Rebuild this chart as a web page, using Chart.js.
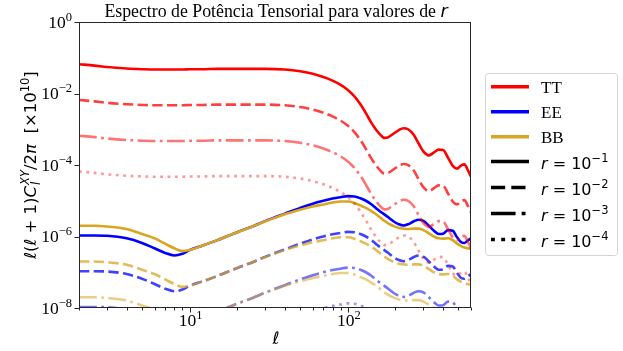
<!DOCTYPE html>
<html>
<head>
<meta charset="utf-8">
<script src="https://cdn.jsdelivr.net/npm/chart.js@4/dist/chart.umd.min.js"></script>
<style>
  html, body { margin: 0; padding: 0; background: #ffffff; }
  canvas { display: block; }
</style>
</head>
<body>
<canvas id="chart" width="623" height="351"></canvas>
<script>
// Multipoles ℓ at which the spectra are sampled
const ell = [2, 2.5, 3, 4, 5, 6, 7, 8, 9, 10, 12, 15, 20, 25, 30, 40, 50, 60, 70, 80, 90, 100,
  110, 120, 130, 140, 150, 160, 170, 180, 195, 210, 225, 240, 260, 280, 300, 325, 350, 375,
  400, 430, 460, 490, 520, 545, 570, 600];

// Tensor spectra ℓ(ℓ+1)C_ℓ/2π [×10^10] for the reference ratio r = 0.1
const ttRef = [6.61e-2, 6.03e-2, 5.50e-2, 5.01e-2, 4.79e-2, 4.68e-2, 4.68e-2, 4.68e-2, 4.68e-2, 4.79e-2,
  4.79e-2, 4.90e-2, 4.90e-2, 4.90e-2, 4.90e-2, 4.68e-2, 4.17e-2, 3.55e-2, 2.88e-2, 2.29e-2, 1.74e-2, 1.26e-2,
  8.3e-3, 5.0e-3, 2.82e-3, 1.58e-3, 1.0e-3, 7.1e-4, 5.75e-4, 6.0e-4, 7.6e-4, 9.5e-4, 1.07e-3, 1.0e-3,
  7.1e-4, 4.0e-4, 2.4e-4, 1.86e-4, 2.24e-4, 2.69e-4, 2.63e-4, 1.58e-4, 9.5e-5, 7.9e-5, 9.8e-5, 1.04e-4,
  7.6e-5, 4.7e-5];
const eeRef = [1.07e-6, 1.07e-6, 1.05e-6, 8.9e-7, 6.6e-7, 4.68e-7, 3.47e-7, 2.95e-7, 3.3e-7, 4.17e-7,
  5.5e-7, 7.9e-7, 1.32e-6, 1.91e-6, 2.69e-6, 4.37e-6, 6.3e-6, 8.3e-6, 1.0e-5, 1.15e-5, 1.26e-5, 1.35e-5,
  1.32e-5, 1.17e-5, 1.0e-5, 8.1e-6, 6.3e-6, 5.0e-6, 4.17e-6, 3.47e-6, 2.63e-6, 2.19e-6, 2.04e-6, 2.19e-6,
  2.63e-6, 2.95e-6, 2.75e-6, 2.0e-6, 1.45e-6, 1.17e-6, 1.20e-6, 1.51e-6, 1.45e-6, 9.5e-7, 6.9e-7, 6.6e-7,
  7.6e-7, 8.9e-7];
const bbRef = [2.0e-6, 2.0e-6, 1.91e-6, 1.62e-6, 1.17e-6, 8.9e-7, 6.3e-7, 4.68e-7, 3.89e-7, 4.17e-7,
  5.5e-7, 7.9e-7, 1.32e-6, 1.91e-6, 2.63e-6, 4.17e-6, 5.6e-6, 6.9e-6, 7.9e-6, 8.9e-6, 9.5e-6, 9.5e-6,
  8.7e-6, 7.4e-6, 6.3e-6, 5.2e-6, 4.27e-6, 3.39e-6, 2.75e-6, 2.34e-6, 1.95e-6, 1.74e-6, 1.66e-6, 1.62e-6,
  1.66e-6, 1.66e-6, 1.51e-6, 1.23e-6, 1.0e-6, 8.9e-7, 8.7e-7, 8.9e-7, 7.9e-7, 6.3e-7, 5.4e-7, 4.9e-7,
  4.68e-7, 4.47e-7];

// Tensor-to-scalar ratios shown; the spectra scale linearly with r
const rValues = [1e-1, 1e-2, 1e-3, 1e-4];
const rExponents = ['\u22121', '\u22122', '\u22123', '\u22124'];
const spectrumNames = ['TT', 'EE', 'BB'];

// Axis ticks
const xMajorTicks = [10, 100];
const xMajorExponents = ['1', '2'];
const xMinorTicks = [2, 3, 4, 5, 6, 7, 8, 9, 20, 30, 40, 50, 60, 70, 80, 90, 200, 300, 400, 500, 600];
const yMajorTicks = [1, 1e-2, 1e-4, 1e-6, 1e-8];
const yMajorExponents = ['0', '\u22122', '\u22124', '\u22126', '\u22128'];

// Line appearance
const spectrumColors = [[255, 0, 0], [0, 0, 255], [218, 165, 32]];
const rDashes = [[], [10.3, 4.4], [17.8, 4.4, 2.8, 4.4], [2.8, 4.6]];
const rAlphas = [1, 0.75, 0.55, 0.4];
const LINE_W = 2.6;

const refSpectra = [ttRef, eeRef, bbRef];
const rgba = (c, a) => `rgba(${c[0]},${c[1]},${c[2]},${a})`;

const datasets = [];
rValues.forEach((r, ri) => {
  refSpectra.forEach((spec, si) => {
    datasets.push({
      label: `${spectrumNames[si]} r=${r}`,
      data: ell.map((l, i) => ({ x: l, y: spec[i] * r / rValues[0] })),
      borderColor: rgba(spectrumColors[si], rAlphas[ri]),
      borderWidth: LINE_W,
      borderDash: rDashes[ri],
      borderCapStyle: 'butt',
      pointRadius: 0,
      fill: false,
      cubicInterpolationMode: 'monotone',
      clip: 0,
      order: -(ri * 3 + si)
    });
  });
});

const SERIF = '"Liberation Serif", "Times New Roman", serif';
const SANS = '"DejaVu Sans", sans-serif';

function runsWidth(ctx, runs) {
  let w = 0;
  for (const r of runs) {
    if (r.stack) {
      let m = 0;
      for (const s of r.stack) { ctx.font = s.f; m = Math.max(m, ctx.measureText(s.t).width); }
      w += m;
    } else {
      ctx.font = r.f;
      w += ctx.measureText(r.t).width + (r.gap || 0);
    }
  }
  return w;
}

function drawRuns(ctx, x, y, runs) {
  let cx = x;
  ctx.textAlign = 'left';
  ctx.textBaseline = 'alphabetic';
  for (const r of runs) {
    if (r.stack) {
      let m = 0;
      for (const s of r.stack) {
        ctx.font = s.f;
        ctx.fillText(s.t, cx, y + (s.dy || 0));
        m = Math.max(m, ctx.measureText(s.t).width);
      }
      cx += m;
    } else {
      ctx.font = r.f;
      ctx.fillText(r.t, cx, y + (r.dy || 0));
      cx += ctx.measureText(r.t).width + (r.gap || 0);
    }
  }
}

function powerRuns(exp) {
  return [
    { t: '10', f: `17.5px ${SERIF}` },
    { t: exp, f: `12.5px ${SERIF}`, dy: -7 }
  ];
}

function rRuns(exp) {
  return [
    { t: 'r', f: `italic 16px ${SANS}` },
    { t: ' = ', f: `16px ${SANS}` },
    { t: '10', f: `16px ${SANS}` },
    { t: exp, f: `11.5px ${SANS}`, dy: -7 }
  ];
}

const decorations = {
  id: 'decorations',
  afterDatasetsDraw(chart) {
    const { ctx, chartArea: a, scales: { x, y } } = chart;
    ctx.save();
    ctx.lineWidth = 1;
    // frame
    const L = Math.round(a.left) + 0.5, R = Math.round(a.right) - 0.5;
    const T = Math.round(a.top) + 0.5, B = Math.round(a.bottom) - 0.5;
    ctx.strokeStyle = '#262626';
    ctx.strokeRect(L, T, R - L, B - T);
    // x ticks (outward)
    ctx.beginPath();
    xMajorTicks.forEach(v => {
      const px = Math.round(x.getPixelForValue(v)) + 0.5;
      ctx.moveTo(px, B); ctx.lineTo(px, B + 5);
    });
    xMinorTicks.forEach(v => {
      const px = Math.round(x.getPixelForValue(v)) + 0.5;
      ctx.moveTo(px, B); ctx.lineTo(px, B + 3);
    });
    // y ticks
    yMajorTicks.forEach(v => {
      const py = Math.round(y.getPixelForValue(v)) + 0.5;
      ctx.moveTo(L, py); ctx.lineTo(L - 5, py);
    });
    ctx.stroke();

    // tick labels
    ctx.fillStyle = '#000000';
    xMajorTicks.forEach((v, i) => {
      const runs = powerRuns(xMajorExponents[i]);
      const w = runsWidth(ctx, runs);
      drawRuns(ctx, x.getPixelForValue(v) - w / 2 + 1, B + 18, runs);
    });
    yMajorTicks.forEach((v, i) => {
      const runs = powerRuns(yMajorExponents[i]);
      const w = runsWidth(ctx, runs);
      drawRuns(ctx, a.left - 7 - w, y.getPixelForValue(v) + 5.5, runs);
    });
    ctx.restore();
  },
  afterDraw(chart) {
    const { ctx, chartArea: a } = chart;
    ctx.save();
    ctx.fillStyle = '#000000';
    const cx = (a.left + a.right) / 2;

    // title
    const titleRuns = [
      { t: 'Espectro de Potência Tensorial para valores de ', f: `17.8px ${SERIF}` },
      { t: 'r', f: `italic 17.5px ${SANS}` }
    ];
    drawRuns(ctx, cx - runsWidth(ctx, titleRuns) / 2 + 1, 17, titleRuns);

    // x axis label
    const xl = [{ t: 'ℓ', f: `italic 17px ${SANS}` }];
    drawRuns(ctx, cx - runsWidth(ctx, xl) / 2 + 1, 344, xl);

    // y axis label
    const M = `16.5px ${SANS}`, MI = `italic 16.5px ${SANS}`;
    const S = `11.5px ${SANS}`, SI = `italic 11.5px ${SANS}`;
    const yl = [
      { t: 'ℓ', f: MI },
      { t: '(', f: M },
      { t: 'ℓ', f: MI },
      { t: ' + ', f: M },
      { t: '1)', f: M },
      { t: 'C', f: MI, gap: 1 },
      { stack: [{ t: 'l', f: SI, dy: 4 }, { t: 'XY', f: SI, dy: -7.5 }] },
      { t: '/2', f: M },
      { t: 'π', f: MI },
      { t: '  [', f: M },
      { t: '×10', f: M },
      { t: '10', f: S, dy: -7.5 },
      { t: ']', f: M }
    ];
    ctx.save();
    ctx.translate(36, (a.top + a.bottom) / 2);
    ctx.rotate(-Math.PI / 2);
    drawRuns(ctx, -runsWidth(ctx, yl) / 2, 0, yl);
    ctx.restore();

    // legend
    const bx = 485.5, by = 73.5, bw = 132, bh = 182;
    ctx.beginPath();
    ctx.roundRect(bx, by, bw, bh, 3);
    ctx.fillStyle = 'rgba(255,255,255,0.85)';
    ctx.fill();
    ctx.strokeStyle = '#d4d4d4';
    ctx.lineWidth = 1;
    ctx.stroke();

    const rowsY = [86.7, 111.7, 136.7, 161.5, 187.5, 213.5, 239.5];
    const lx0 = 491, lx1 = 529, tx = 541;
    ctx.lineCap = 'butt';
    ctx.lineWidth = 3.6;
    spectrumNames.forEach((name, i) => {
      ctx.setLineDash([]);
      ctx.strokeStyle = rgba(spectrumColors[i], 1);
      ctx.beginPath(); ctx.moveTo(lx0, rowsY[i]); ctx.lineTo(lx1, rowsY[i]); ctx.stroke();
      ctx.fillStyle = '#000000';
      drawRuns(ctx, tx, rowsY[i] + 6, [{ t: name, f: `17px ${SERIF}` }]);
    });
    rValues.forEach((r, i) => {
      const yy = rowsY[3 + i];
      ctx.setLineDash(rDashes[i].map(d => d * 1.38));
      ctx.strokeStyle = '#000000';
      ctx.beginPath(); ctx.moveTo(lx0, yy); ctx.lineTo(lx1, yy); ctx.stroke();
      ctx.setLineDash([]);
      ctx.fillStyle = '#000000';
      drawRuns(ctx, tx, yy + 7, rRuns(rExponents[i]));
    });
    ctx.restore();
  }
};

new Chart(document.getElementById('chart'), {
  type: 'line',
  data: { datasets },
  options: {
    responsive: false,
    animation: false,
    devicePixelRatio: 1,
    layout: { padding: { left: 79, right: 152, top: 22, bottom: 43 } },
    plugins: { legend: { display: false }, tooltip: { enabled: false }, title: { display: false } },
    events: [],
    scales: {
      x: { type: 'logarithmic', min: 2, max: 600, display: false },
      y: { type: 'logarithmic', min: 1e-8, max: 1, display: false }
    }
  },
  plugins: [decorations]
});
</script>
</body>
</html>
